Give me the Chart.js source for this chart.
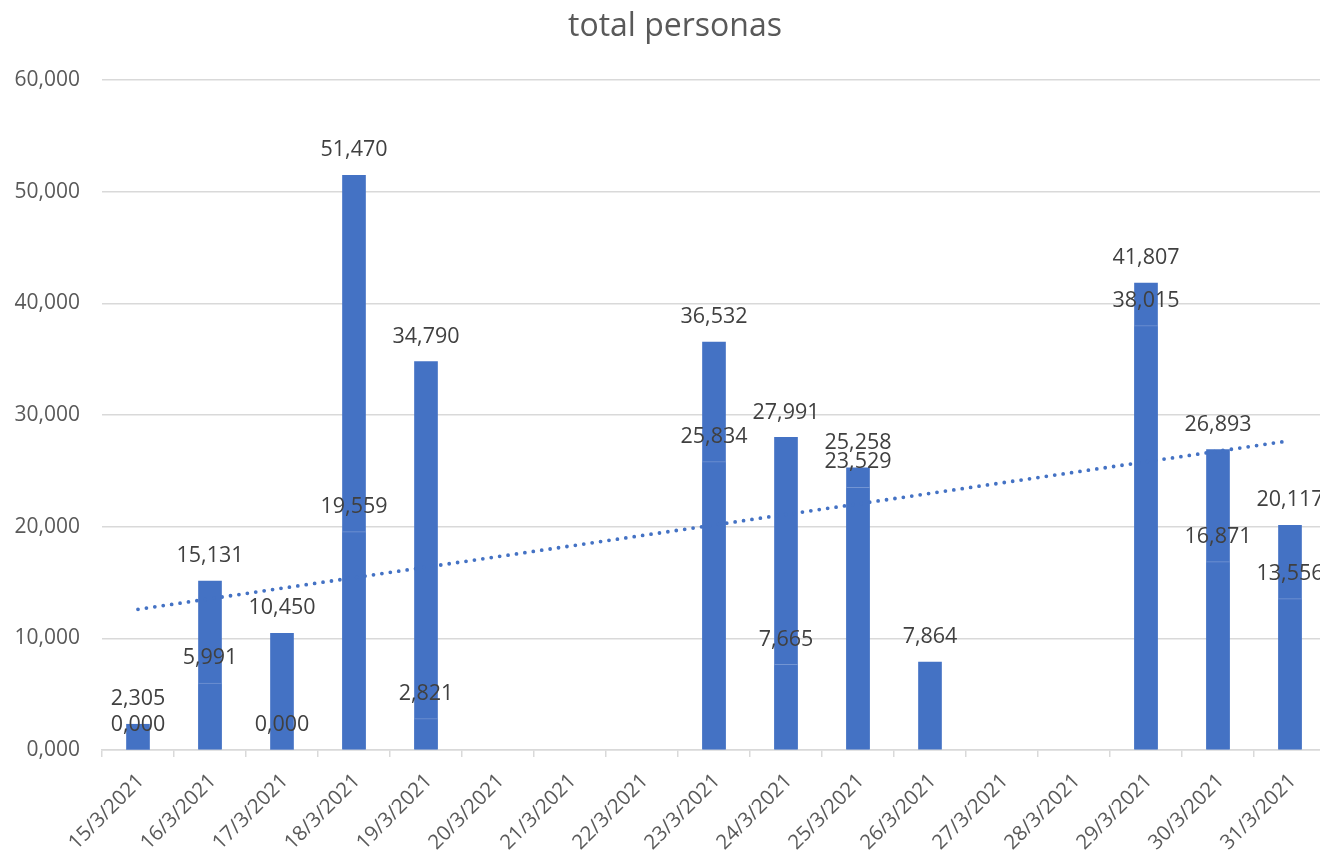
<!DOCTYPE html>
<html>
<head>
<meta charset="utf-8">
<script src="https://cdn.jsdelivr.net/npm/chart.js@4.4.1/dist/chart.umd.min.js"></script>
<style>
  html, body { margin: 0; padding: 0; overflow: hidden; background: #fff; width: 1320px; height: 858px; }
</style>
</head>
<body>
<canvas id="chart" width="1340" height="858"></canvas>
<script>
// categories
const dates = ['15/3/2021', '16/3/2021', '17/3/2021', '18/3/2021', '19/3/2021', '20/3/2021',
    '21/3/2021', '22/3/2021', '23/3/2021', '24/3/2021', '25/3/2021', '26/3/2021',
    '27/3/2021', '28/3/2021', '29/3/2021', '30/3/2021', '31/3/2021'];

// total per day (tall bars)
const totals = [2305, 15131, 10450, 51470, 34790, null, null, null,
    36532, 27991, 25258, 7864, null, null, 41807, 26893, 20117];

// second series, drawn over the first in the same colour
const partials = [0, 5991, 0, 19559, 2821, null, null, null,
    25834, 7665, 23529, null, null, null, 38015, 16871, 13556];

// linear trend, start and end
const trendStart = 12600;
const trendEnd = 27700;

const yTicks = [0, 10000, 20000, 30000, 40000, 50000, 60000];

const chartTitle = 'total personas';

const BLUE = '#4472C4';

const fmt = (v) => {
    const thousands = Math.floor(v / 1000);
    const rest = String(Math.round(v % 1000)).padStart(3, '0');
    return thousands + ',' + rest;
};

const trendData = dates.map((d, i) => {
    if (i === 0) return trendStart;
    if (i === dates.length - 1) return trendEnd;
    return null;
});

// value labels above each bar + the title (excel centres it a bit right of the canvas middle)
const barLabels = {
    id: 'barLabels',
    afterDatasetsDraw(chart) {
        const ctx = chart.ctx;
        ctx.save();
        ctx.font = '21.5px "Open Sans"';
        ctx.fillStyle = '#404040';
        ctx.textAlign = 'center';
        ctx.textBaseline = 'middle';
        chart.data.datasets.forEach((ds, di) => {
            if (ds.type === 'line') return;
            chart.getDatasetMeta(di).data.forEach((el, i) => {
                const v = ds.data[i];
                if (v === null || v === undefined) return;
                ctx.fillText(fmt(v), el.x, el.y - 25);
            });
        });

        ctx.font = '32px "Open Sans"';
        ctx.fillStyle = '#595959';
        ctx.fillText(chartTitle, 675, 27);
        ctx.restore();
    }
};

const ctx = document.getElementById('chart').getContext('2d');
new Chart(ctx, {
    type: 'bar',
    data: {
        labels: dates,
        datasets: [
            {
                type: 'line',
                label: 'trend',
                data: trendData,
                spanGaps: true,
                borderColor: BLUE,
                borderWidth: 3.8,
                borderDash: [0, 8.5],
                borderCapStyle: 'round',
                pointRadius: 0,
                fill: false,
                order: 0,
            },
            {
                label: 'partial',
                data: partials,
                backgroundColor: BLUE,
                borderColor: 'rgba(255,255,255,0.25)',
                borderWidth: { top: 1, left: 0, right: 0, bottom: 0 },
                borderSkipped: 'bottom',
                barThickness: 23,
                grouped: false,
                order: 1,
            },
            {
                label: 'total',
                data: totals,
                backgroundColor: BLUE,
                borderWidth: 0,
                barThickness: 23,
                grouped: false,
                order: 2,
            },
        ],
    },
    options: {
        responsive: false,
        animation: false,
        layout: {
            padding: { left: 0, right: 14, top: 80, bottom: 0 },
        },
        plugins: {
            legend: { display: false },
            tooltip: { enabled: false },
            title: { display: false },
        },
        scales: {
            x: {
                grid: {
                    display: true,
                    drawOnChartArea: false,
                    drawTicks: true,
                    tickLength: 7,
                    color: '#d9d9d9',
                    lineWidth: 1.5,
                },
                border: { color: '#d9d9d9', width: 1.5 },
                ticks: {
                    autoSkip: false,
                    maxRotation: 45,
                    minRotation: 45,
                    color: '#595959',
                    font: { family: 'Open Sans', size: 20.5 },
                    padding: 12,
                    labelOffset: 3,
                },
                afterFit: (s) => { s.height = 108; },
            },
            y: {
                min: 0,
                max: 60000,
                afterBuildTicks: (s) => { s.ticks = yTicks.map((v) => ({ value: v })); },
                grid: { color: '#d9d9d9', lineWidth: 1.5, drawTicks: false },
                border: { display: false },
                ticks: {
                    color: '#595959',
                    font: { family: 'Open Sans', size: 21 },
                    padding: 22,
                    callback: (v) => fmt(v),
                },
                afterFit: (s) => { s.width = 102; },
            },
        },
    },
    plugins: [barLabels],
});
</script>
</body>
</html>
